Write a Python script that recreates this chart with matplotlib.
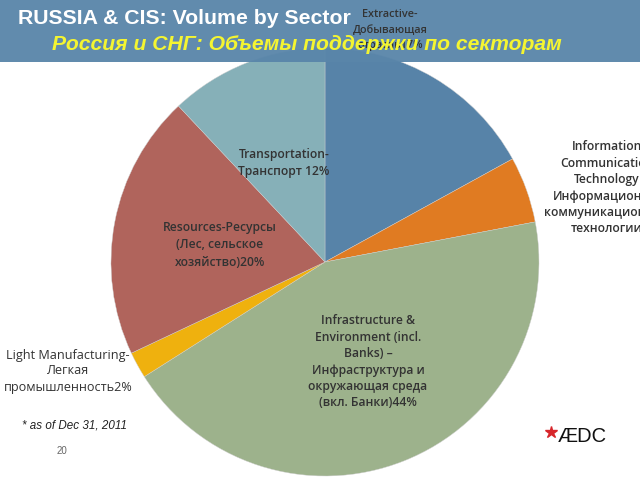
import matplotlib
matplotlib.use("Agg")
import matplotlib.pyplot as plt
from matplotlib.patches import Rectangle

sectors = ["Extractive", "ICT", "Infrastructure & Environment", "Light Manufacturing",
           "Resources", "Transportation"]
values = [17, 5, 44, 2, 20, 12]
colors = ["#5783A8", "#E07B22", "#9DB28C", "#EFB10E", "#B0645C", "#86B0B8"]

labels = {
    "Extractive": "Extractive-\nДобывающая\nотрасль17%",
    "ICT": "Information\nCommunication\nTechnology\nИнформационно-\nкоммуникационные\nтехнологии",
    "Infrastructure & Environment": "Infrastructure &\nEnvironment (incl.\nBanks) –\nИнфраструктура и\nокружающая среда\n(вкл. Банки)44%",
    "Light Manufacturing": "Light Manufacturing-\nЛегкая\nпромышленность2%",
    "Resources": "Resources-Ресурсы\n(Лес, сельское\nхозяйство)20%",
    "Transportation": "Transportation-\nТранспорт 12%",
}

title_en = "RUSSIA & CIS: Volume by Sector"
title_ru = "Россия и СНГ: Объемы поддержки по секторам"
footnote = "* as of Dec 31, 2011"
page_no = "20"

W, H = 640, 480
fig = plt.figure(figsize=(6.4, 4.8), dpi=100)
ax = fig.add_axes([0, 0, 1, 1])

def Y(yp):
    return H - yp

ax.pie(values, colors=colors, startangle=90, counterclock=False,
       center=(325, Y(262)), radius=214,
       wedgeprops=dict(linewidth=0.3, edgecolor="#cfcfcf"))
ax.set_xlim(0, W)
ax.set_ylim(0, H)
ax.set_aspect("equal")
ax.axis("off")

# header band
ax.add_patch(Rectangle((0, Y(62)), W, 62, facecolor="#5A86AA", edgecolor="none",
                       alpha=0.96, zorder=5))

lab_font = dict(family=["Open Sans", "DejaVu Sans"], fontsize=8.7, fontweight="semibold",
                color="#333333", ha="center", va="center", linespacing=1.34)

ax.text(390, Y(30), labels["Extractive"], zorder=6, **{**lab_font, "fontsize": 7.8, "linespacing": 1.6})
ax.text(607, Y(188), labels["ICT"], zorder=6, clip_on=False, **lab_font)
ax.text(368, Y(362), labels["Infrastructure & Environment"], zorder=6, **lab_font)
ax.text(68, Y(371), labels["Light Manufacturing"], zorder=6,
        **{**lab_font, "fontweight": "normal", "fontsize": 9.1, "linespacing": 1.3})
ax.text(220, Y(245), labels["Resources"], zorder=6, **{**lab_font, "linespacing": 1.4})
ax.text(284, Y(163), labels["Transportation"], zorder=6, **lab_font)

# titles
ax.text(18, Y(18), title_en, color="white", fontsize=15.3, fontweight="bold",
        family=["Liberation Sans", "DejaVu Sans"], ha="left", va="center", zorder=7)
ax.text(52, Y(45), title_ru, color="#F4F531", fontsize=15.2, fontweight="bold",
        fontstyle="italic", family=["Liberation Sans", "DejaVu Sans"],
        ha="left", va="center", zorder=7)

ax.text(22, Y(426), footnote, color="#222222", fontsize=8.4, fontstyle="italic",
        family=["Liberation Sans", "DejaVu Sans"], ha="left", va="center", zorder=7)
ax.text(62, Y(451), page_no, color="#666666", fontsize=7,
        family=["Liberation Sans", "DejaVu Sans"], ha="center", va="center", zorder=7)

# EDC logo
ax.plot([551], [Y(432)], marker="*", color="#D7262B", markersize=9, zorder=7)
ax.text(558, Y(437), "ÆDC", color="#111111", fontsize=14.5,
        family=["Liberation Sans", "DejaVu Sans"], ha="left", va="center", zorder=7)

fig.savefig("out.png", dpi=100)
